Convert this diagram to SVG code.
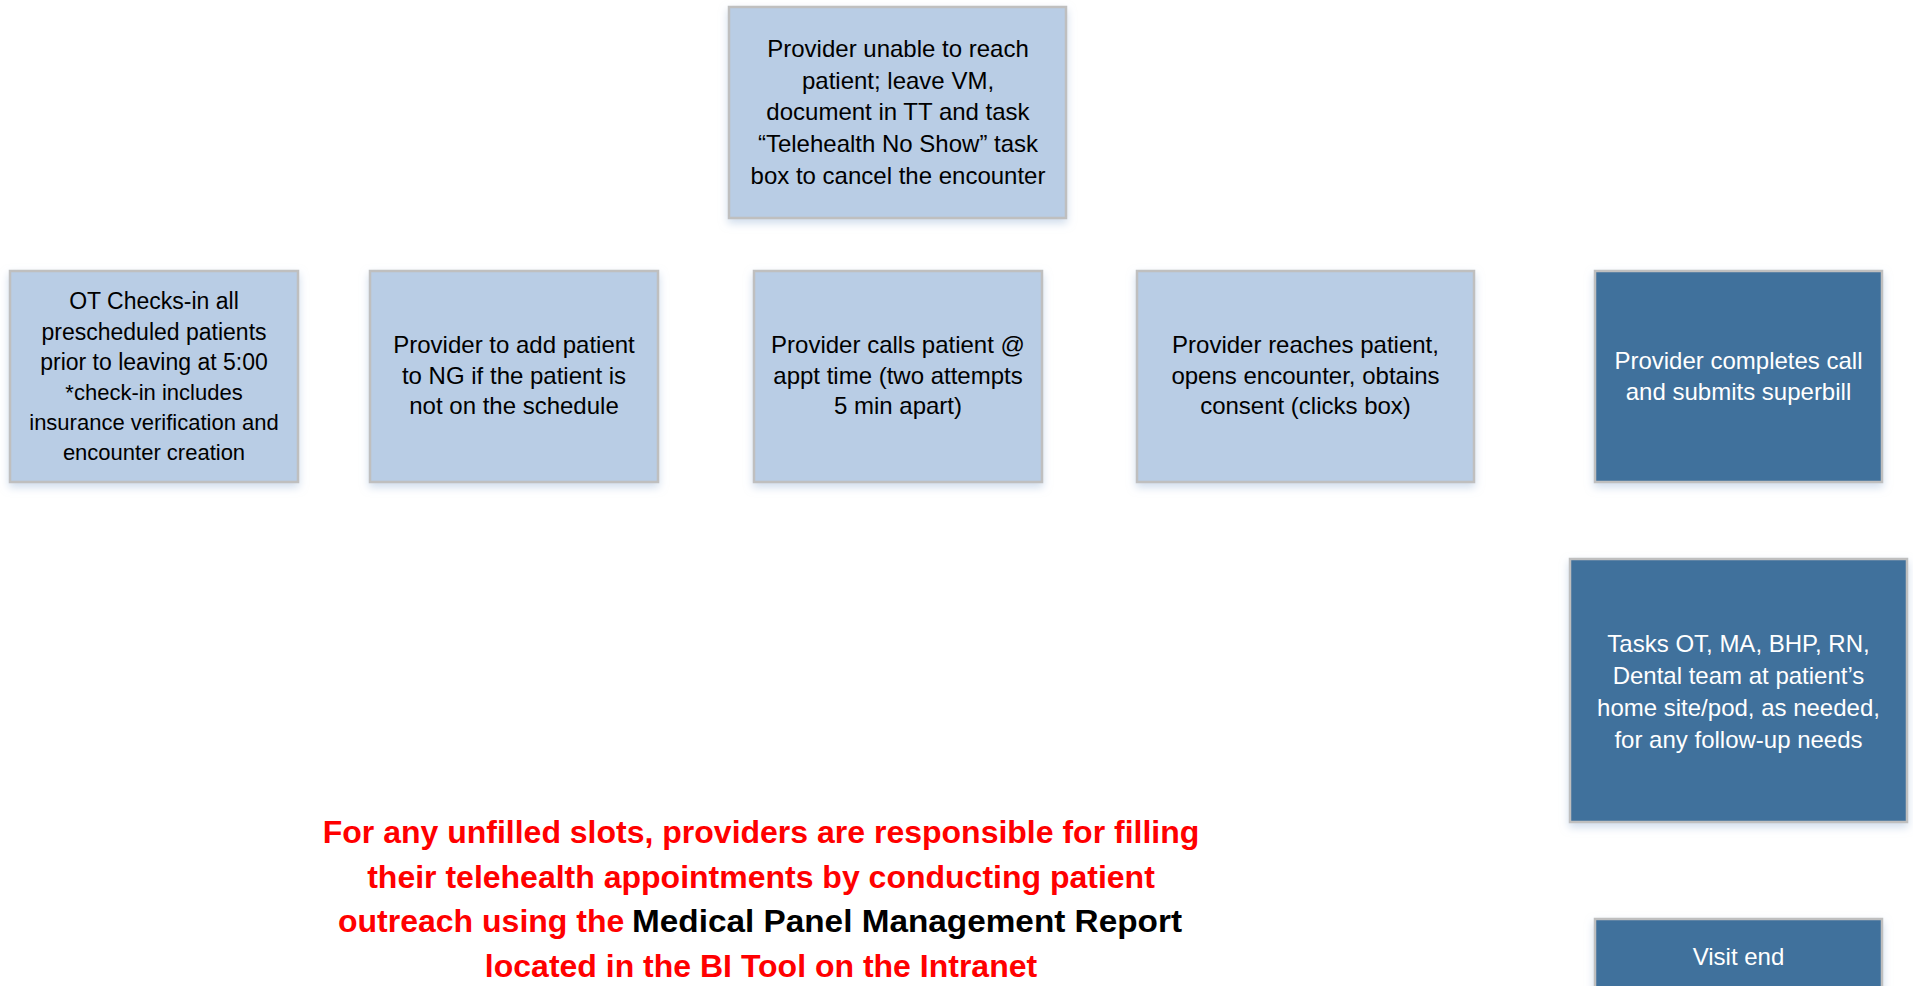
<svg xmlns="http://www.w3.org/2000/svg" width="1913" height="986" viewBox="0 0 1913 986">
  <style>
    .box { stroke: #bfbfbf; stroke-width: 2.5; filter: url(#shadow); }
    .light { fill: #b9cde5; }
    .dark { fill: #41719c; }
    .t { font-family: "Liberation Sans", Arial, sans-serif; font-size: 24px; text-anchor: middle; }
    .tl { fill: #000000; }
    .td { fill: #ffffff; }
    .note { font-family: "Liberation Sans", Arial, sans-serif; font-size: 32px; font-weight: bold; fill: #ff0000; }
    .ref { font-family: "Liberation Sans", Arial, sans-serif; font-size: 32px; font-weight: bold; fill: #000000; }
  </style>
  <defs>
    <filter id="shadow" x="-10%" y="-10%" width="120%" height="125%">
      <feDropShadow dx="0" dy="4" stdDeviation="4" flood-color="#a9bfdc" flood-opacity="0.55"/>
    </filter>
  </defs>
  <rect width="1913" height="986" fill="#ffffff"/>

  <g id="connectors"></g>

  <g id="node-no-show">
    <rect class="box light" x="729" y="7" width="337" height="211"/>
    <text class="t tl" x="898" y="57">Provider unable to reach</text>
    <text class="t tl" x="898" y="89">patient; leave VM,</text>
    <text class="t tl" x="898" y="120">document in TT and task</text>
    <text class="t tl" x="898" y="152">“Telehealth No Show” task</text>
    <text class="t tl" x="898" y="184">box to cancel the encounter</text>
  </g>

  <g id="node-checkin">
    <rect class="box light" x="10" y="271" width="288" height="211"/>
    <text class="t tl" x="154" y="309" style="font-size:23px">OT Checks-in all</text>
    <text class="t tl" x="154" y="340" style="font-size:23px">prescheduled  patients</text>
    <text class="t tl" x="154" y="370" style="font-size:23px">prior to leaving at 5:00</text>
    <text class="t tl" x="154" y="400" style="font-size:22px">*check-in includes</text>
    <text class="t tl" x="154" y="430" style="font-size:22px">insurance verification and</text>
    <text class="t tl" x="154" y="460" style="font-size:22px">encounter creation</text>
  </g>

  <g id="node-add-patient">
    <rect class="box light" x="370" y="271" width="288" height="211"/>
    <text class="t tl" x="514" y="353">Provider to add patient</text>
    <text class="t tl" x="514" y="384">to NG if the patient is</text>
    <text class="t tl" x="514" y="414">not on the schedule</text>
  </g>

  <g id="node-calls">
    <rect class="box light" x="754" y="271" width="288" height="211"/>
    <text class="t tl" x="898" y="353">Provider calls patient @</text>
    <text class="t tl" x="898" y="384">appt time (two attempts</text>
    <text class="t tl" x="898" y="414">5 min apart)</text>
  </g>

  <g id="node-reaches">
    <rect class="box light" x="1137" y="271" width="337" height="211"/>
    <text class="t tl" x="1305.5" y="353">Provider reaches patient,</text>
    <text class="t tl" x="1305.5" y="384">opens encounter, obtains</text>
    <text class="t tl" x="1305.5" y="414">consent (clicks box)</text>
  </g>

  <g id="node-completes">
    <rect class="box dark" x="1595" y="271" width="287" height="211"/>
    <text class="t td" x="1738.5" y="369">Provider completes call</text>
    <text class="t td" x="1738.5" y="400">and submits superbill</text>
  </g>

  <g id="node-tasks">
    <rect class="box dark" x="1570" y="559" width="337" height="263"/>
    <text class="t td" x="1738.5" y="652">Tasks OT, MA, BHP, RN,</text>
    <text class="t td" x="1738.5" y="684">Dental team at patient’s</text>
    <text class="t td" x="1738.5" y="716">home site/pod, as needed,</text>
    <text class="t td" x="1738.5" y="748">for any follow-up needs</text>
  </g>

  <g id="node-visit-end">
    <rect class="box dark" x="1595" y="919" width="287" height="211"/>
    <text class="t td" x="1738.5" y="965">Visit end</text>
  </g>

  <g id="note">
    <text class="note" x="761" y="843" text-anchor="middle">For any unfilled slots, providers are responsible for filling</text>
    <text class="note" x="761" y="888" text-anchor="middle">their telehealth appointments by conducting patient</text>
    <text class="note" x="338" y="932">outreach using the </text>
    <text class="ref" x="632" y="932" textLength="550" lengthAdjust="spacingAndGlyphs">Medical Panel Management Report</text>
    <text class="note" x="761" y="977" text-anchor="middle">located in the BI Tool on the Intranet</text>
  </g>
</svg>
